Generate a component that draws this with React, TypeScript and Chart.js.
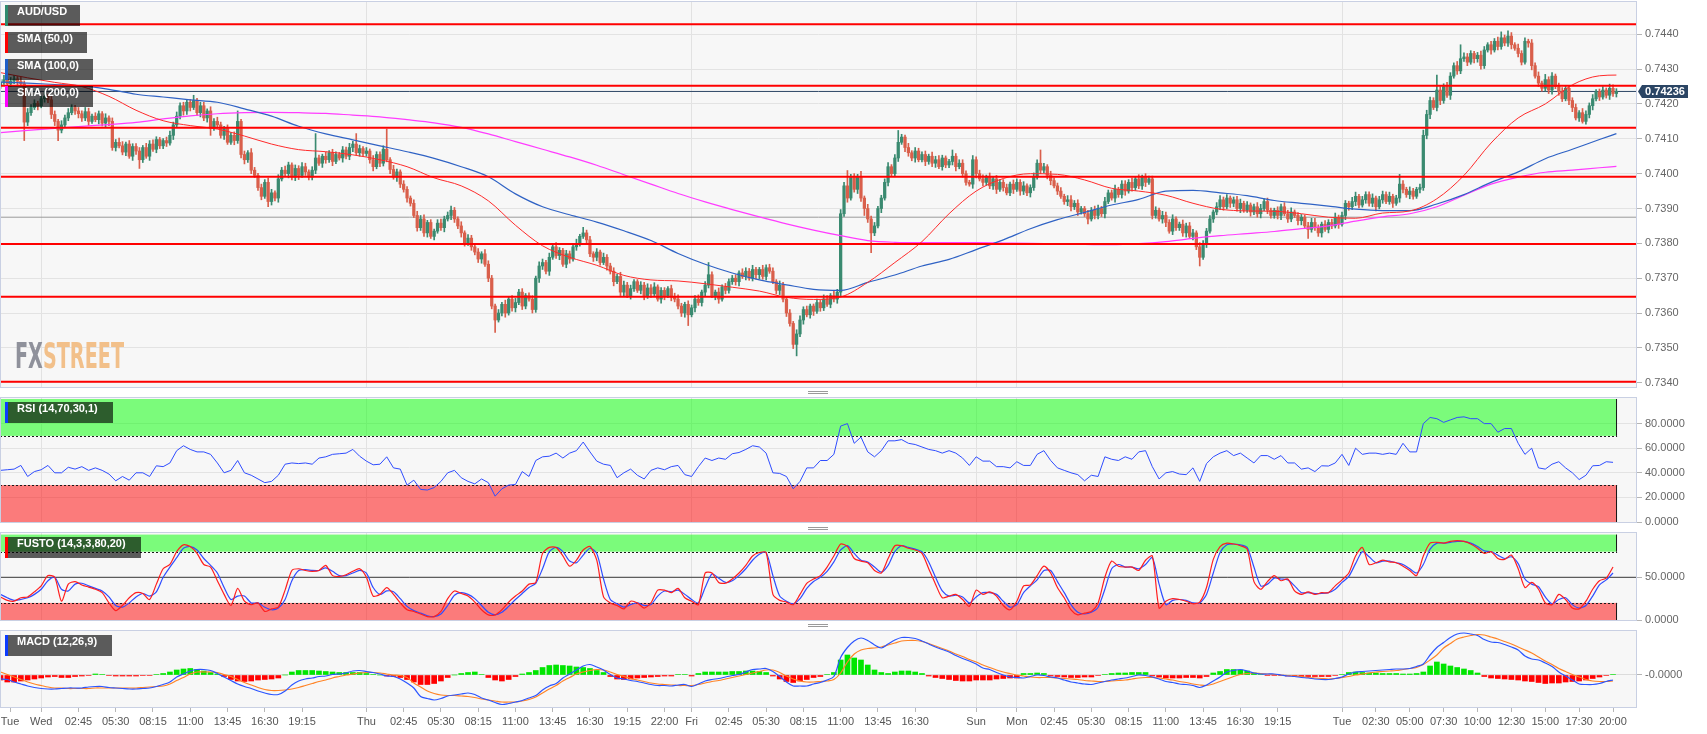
import React, { useEffect, useRef } from "react";
import { Chart, registerables } from "chart.js";

Chart.register(...registerables);
Chart.defaults.font.family = "'Liberation Sans', Arial, Helvetica, sans-serif";

// ---------------- time axis: trading hours since Wed 00:00 (weekend gap removed) ----------------
const X_MIN = -3.04;
const X_MAX = 117.77;
const TICK_T = [-2.3, 0, 2.75, 5.5, 8.25, 11, 13.75, 16.5, 19.25, 24, 26.75, 29.5, 32.25, 35, 37.75, 40.5, 43.25, 46, 48, 50.75, 53.5, 56.25, 59, 61.75, 64.5, 69, 72, 74.75, 77.5, 80.25, 83, 85.75, 88.5, 91.25, 96, 98.5, 101, 103.5, 106, 108.5, 111, 113.5, 116];
const TICK_LABELS = ["Tue", "Wed", "02:45", "05:30", "08:15", "11:00", "13:45", "16:30", "19:15", "Thu", "02:45", "05:30", "08:15", "11:00", "13:45", "16:30", "19:15", "22:00", "Fri", "02:45", "05:30", "08:15", "11:00", "13:45", "16:30", "Sun", "Mon", "02:45", "05:30", "08:15", "11:00", "13:45", "16:30", "19:15", "Tue", "02:30", "05:00", "07:30", "10:00", "12:30", "15:00", "17:30", "20:00"];
const DAY_T = [0, 24, 48, 69, 72, 96];

// ---------------- 15-minute candles, values in 1e-5 above 0.73000 ----------------
const PRICE_BASE = 0.73;
const PRICE_UNIT = 100000;
const BAR_T0 = -3;
const BAR_STEP = 0.25;
const FIRST_OPEN = 1255;
const CLOSE = [
  1262, 1270, 1258, 1266,
  1272, 1265, 1258, 1148,
  1175, 1190, 1202, 1195,
  1215, 1222, 1212, 1170,
  1150, 1125, 1140, 1160,
  1175, 1190, 1180, 1172,
  1160, 1178, 1150, 1165,
  1155, 1172, 1145, 1160,
  1150, 1075, 1090, 1080,
  1062, 1085, 1050, 1078,
  1065, 1040, 1075, 1050,
  1085, 1070, 1098, 1080,
  1095, 1088, 1110, 1140,
  1165, 1195, 1180, 1205,
  1190, 1210, 1175, 1195,
  1160, 1180, 1130, 1150,
  1140, 1110, 1130, 1090,
  1110, 1095, 1150, 1055,
  1040, 1060, 1010, 995,
  960, 935, 975, 920,
  945, 930, 985, 1010,
  1000, 1025, 990, 1015,
  995, 1020, 1005, 990,
  1010, 1045, 1030, 1050,
  1040, 1060, 1035, 1055,
  1045, 1068, 1050, 1075,
  1085, 1060, 1072, 1058,
  1065, 1040, 1020, 1055,
  1030, 1070, 1040, 1012,
  990, 1005, 970, 955,
  930, 915, 880, 845,
  870, 830, 860, 820,
  835, 858, 845, 870,
  880, 895, 870, 850,
  830, 800, 815, 790,
  775, 755, 770, 740,
  700, 620, 580, 600,
  625, 600, 640, 615,
  630, 660, 620, 650,
  640, 610, 700, 735,
  745, 720, 760, 790,
  765, 780, 740, 770,
  755, 790, 800, 820,
  830, 810, 770, 760,
  775, 745, 760, 735,
  720, 690, 705, 660,
  680, 650, 670, 690,
  665, 680, 650, 672,
  655, 675, 640, 665,
  650, 670, 645, 640,
  620, 600, 625, 595,
  615, 640, 630, 660,
  680, 710, 650, 660,
  640, 675, 665, 690,
  700, 690, 715, 705,
  720, 700, 725, 710,
  725, 705, 730, 720,
  690, 665, 680, 640,
  600, 570, 510, 540,
  580, 610, 595, 620,
  605, 630, 615, 640,
  625, 650, 640, 660,
  885, 965, 930, 990,
  955, 990, 930, 900,
  870, 830, 850, 900,
  930, 975, 1020, 1000,
  1045, 1090, 1105, 1075,
  1060, 1045, 1065, 1040,
  1055, 1035, 1050, 1030,
  1040, 1020, 1045, 1025,
  1035, 1050, 1020, 1030,
  1000, 975, 970, 1040,
  1000, 985, 975, 990,
  965, 985, 955, 975,
  960, 945, 970, 955,
  975, 950, 965, 945,
  960, 990, 1030, 1010,
  1020, 995, 980, 965,
  950, 935, 920, 925,
  905, 915, 890, 900,
  885, 870, 895, 880,
  900, 885, 920, 945,
  930, 955, 940, 970,
  950, 975, 960, 985,
  965, 990, 975, 985,
  880, 895, 870, 880,
  860, 835, 870, 845,
  855, 830, 850, 820,
  830, 790, 760, 800,
  835, 870, 890, 905,
  925, 905, 930, 915,
  925, 900, 915, 895,
  910, 890, 905, 885,
  900, 920, 895, 880,
  895, 880, 905, 885,
  870, 890, 880, 865,
  875, 850, 840, 860,
  845, 830, 855, 840,
  860, 850, 875, 855,
  880, 915, 905, 920,
  935, 910, 925, 940,
  915, 930, 905, 925,
  940, 920, 935, 915,
  930, 970, 955, 940,
  950, 935, 955, 960,
  1110, 1170, 1210, 1190,
  1240, 1210, 1250, 1225,
  1280, 1310, 1295, 1330,
  1335, 1320, 1345, 1330,
  1340, 1310, 1355, 1370,
  1355, 1380, 1365, 1390,
  1375, 1395, 1370, 1360,
  1345, 1320, 1380, 1375,
  1310, 1280, 1260, 1245,
  1270, 1240, 1280, 1250,
  1235, 1215, 1245, 1210,
  1190, 1160, 1175, 1150,
  1170, 1195, 1215, 1235,
  1220, 1240, 1225, 1245,
  1230, 1236,
];
const HI_W = [
  8, 12, 6, 10, 10, 7, 12, 8, 12, 8, 10, 6, 8, 14, 6, 10,
  10, 6, 12, 8, 12, 8, 6, 10, 8, 12, 10, 6, 10, 8, 6, 12,
  6, 10, 8, 12, 12, 6, 10, 8, 8, 10, 6, 12, 10, 12, 8, 6,
  6, 10, 12, 8, 12, 8, 10, 6, 8, 15, 6, 10, 10, 6, 12, 8,
  12, 8, 6, 10, 8, 10, 30, 6, 10, 6, 12, 8, 6, 10, 8, 12,
  10, 6, 12, 8, 12, 8, 6, 10, 8, 12, 10, 6, 10, 70, 8, 6,
  12, 6, 10, 8, 6, 10, 8, 12, 8, 30, 10, 6, 10, 6, 12, 8,
  8, 10, 58, 6, 12, 8, 6, 10, 8, 6, 10, 12, 10, 12, 6, 8,
  6, 10, 12, 8, 10, 12, 8, 6, 12, 6, 10, 8, 8, 10, 6, 12,
  10, 8, 6, 10, 6, 12, 8, 10, 12, 8, 10, 6, 8, 10, 6, 12,
  10, 6, 12, 8, 12, 8, 6, 10, 8, 10, 12, 6, 16, 8, 10, 6,
  10, 6, 12, 8, 8, 10, 6, 12, 12, 8, 10, 6, 6, 10, 8, 12,
  10, 12, 6, 8, 8, 6, 10, 12, 12, 8, 6, 10, 8, 10, 12, 6,
  10, 35, 8, 6, 12, 6, 10, 8, 8, 10, 6, 12, 10, 8, 12, 6,
  6, 12, 8, 10, 10, 6, 12, 8, 8, 10, 6, 12, 12, 8, 10, 6,
  6, 10, 8, 12, 10, 6, 12, 8, 12, 10, 44, 8, 10, 8, 17, 6,
  12, 8, 10, 6, 8, 10, 12, 6, 10, 34, 8, 6, 12, 6, 10, 8,
  8, 10, 6, 12, 10, 12, 8, 6, 6, 18, 8, 10, 10, 8, 6, 12,
  8, 10, 12, 6, 12, 6, 10, 8, 8, 10, 6, 12, 10, 8, 12, 6,
  8, 12, 10, 38, 10, 6, 12, 8, 8, 10, 6, 12, 12, 8, 10, 6,
  6, 10, 8, 12, 10, 6, 12, 8, 8, 12, 6, 10, 10, 8, 12, 6,
  12, 6, 10, 8, 8, 10, 6, 12, 10, 8, 12, 6, 6, 12, 8, 10,
  10, 6, 12, 8, 8, 10, 6, 12, 12, 8, 10, 6, 8, 10, 12, 6,
  10, 6, 8, 12, 12, 8, 10, 6, 6, 10, 8, 12, 10, 12, 6, 8,
  8, 6, 10, 12, 12, 8, 6, 10, 8, 10, 12, 6, 10, 8, 6, 12,
  12, 6, 10, 8, 8, 12, 6, 10, 10, 8, 12, 6, 8, 28, 10, 6,
  12, 8, 6, 10, 15, 12, 10, 8, 43, 10, 8, 12, 10, 8, 12, 40,
  12, 10, 8, 6, 8, 12, 10, 6, 10, 8, 12, 17, 8, 15, 10, 6,
  12, 8, 10, 6, 10, 8, 12, 6, 15, 8, 10, 6, 10, 12, 8, 6,
  8, 10, 6, 12, 10, 8, 12, 6, 8, 10, 6, 12, 10, 8,
];
const LO_W = [
  10, 6, 12, 8, 8, 12, 6, 53, 10, 8, 6, 12, 6, 10, 8, 12,
  12, 30, 8, 6, 8, 6, 10, 12, 10, 8, 12, 6, 6, 12, 8, 10,
  12, 8, 10, 6, 8, 10, 6, 12, 10, 25, 8, 6, 12, 6, 10, 8,
  8, 10, 6, 12, 6, 8, 12, 10, 10, 6, 8, 12, 8, 12, 20, 6,
  10, 8, 12, 6, 6, 12, 8, 10, 12, 8, 10, 6, 8, 10, 6, 15,
  10, 8, 12, 6, 6, 12, 8, 10, 12, 6, 10, 8, 8, 10, 6, 12,
  10, 8, 12, 6, 6, 12, 8, 10, 12, 6, 10, 8, 8, 10, 12, 6,
  10, 8, 6, 12, 6, 12, 10, 8, 12, 8, 6, 10, 8, 10, 12, 6,
  10, 6, 8, 12, 6, 12, 10, 8, 12, 8, 6, 10, 8, 10, 12, 6,
  10, 8, 36, 6, 8, 12, 6, 10, 12, 6, 10, 8, 6, 10, 8, 12,
  10, 8, 12, 6, 8, 12, 6, 10, 12, 6, 10, 8, 6, 10, 8, 12,
  10, 8, 6, 12, 8, 12, 6, 10, 12, 6, 10, 8, 6, 10, 12, 8,
  10, 8, 6, 12, 12, 6, 10, 8, 8, 10, 12, 31, 6, 12, 8, 10,
  10, 8, 6, 12, 12, 6, 10, 8, 8, 10, 12, 6, 10, 6, 8, 12,
  12, 8, 10, 6, 6, 10, 12, 8, 10, 8, 12, 33, 8, 12, 6, 10,
  12, 6, 10, 8, 6, 10, 8, 12, 10, 8, 12, 6, 8, 12, 10, 20,
  10, 57, 8, 6, 12, 6, 10, 8, 8, 10, 6, 12, 10, 8, 12, 6,
  6, 12, 8, 10, 12, 6, 10, 8, 8, 10, 12, 6, 10, 8, 6, 12,
  12, 6, 10, 8, 8, 10, 12, 6, 10, 6, 8, 12, 6, 12, 10, 8,
  12, 8, 6, 10, 8, 10, 12, 6, 10, 6, 8, 12, 12, 8, 10, 6,
  8, 14, 6, 10, 10, 8, 12, 6, 6, 12, 8, 10, 12, 6, 10, 8,
  8, 10, 12, 6, 10, 8, 6, 12, 12, 6, 10, 8, 8, 10, 12, 6,
  10, 8, 25, 6, 12, 6, 10, 8, 8, 10, 6, 12, 10, 8, 12, 6,
  6, 12, 8, 10, 12, 6, 10, 8, 8, 10, 12, 6, 10, 8, 6, 12,
  12, 6, 26, 8, 8, 10, 12, 6, 10, 8, 6, 12, 6, 12, 10, 8,
  12, 8, 6, 10, 8, 10, 12, 6, 10, 6, 8, 12, 6, 12, 10, 8,
  12, 8, 6, 10, 8, 10, 12, 6, 10, 12, 8, 6, 12, 6, 10, 8,
  8, 10, 6, 12, 10, 10, 8, 6, 12, 6, 10, 8, 8, 10, 12, 6,
  10, 8, 6, 12, 12, 6, 10, 8, 8, 10, 12, 6, 10, 8, 6, 12,
  12, 6, 10, 5, 8, 10, 12, 6, 10, 6, 8, 12, 8, 10,
];

const RED_LEVELS = [0.74429, 0.74252, 0.74132, 0.73991, 0.73798, 0.73647, 0.73403];
const GRAY_LEVEL = 0.73875;
const PRICE_TICKS = [0.734, 0.735, 0.736, 0.737, 0.738, 0.739, 0.74, 0.741, 0.742, 0.743, 0.744];

// ---------------- moving averages (every 2 h), units 1e-5 above 0.73000 ----------------
const SMA_LAST_T = 116.25;
const SMA50 = [1290, 1275, 1262, 1250, 1222, 1182, 1152, 1138, 1128, 1108, 1085, 1069, 1063, 1054, 1040, 1020, 988, 965, 922, 852, 793, 760, 737, 708, 695, 692, 684, 674, 663, 645, 639, 646, 688, 745, 805, 885, 950, 986, 1000, 998, 982, 958, 950, 938, 915, 898, 893, 892, 885, 875, 872, 887, 893, 928, 995, 1088, 1160, 1200, 1255, 1281, 1283];
const SMA100 = [1263, 1260, 1256, 1252, 1242, 1228, 1220, 1212, 1205, 1186, 1165, 1136, 1114, 1097, 1080, 1063, 1044, 1020, 991, 942, 905, 882, 861, 836, 808, 771, 740, 715, 695, 681, 668, 665, 688, 709, 735, 754, 782, 810, 842, 868, 889, 910, 926, 950, 952, 945, 937, 923, 915, 907, 898, 894, 894, 913, 940, 975, 1005, 1043, 1070, 1098, 1115];
const SMA200 = [1118, 1124, 1130, 1136, 1141, 1147, 1157, 1166, 1172, 1175, 1176, 1175, 1173, 1168, 1163, 1155, 1146, 1133, 1114, 1092, 1070, 1048, 1024, 997, 970, 943, 919, 897, 876, 856, 838, 822, 808, 803, 802, 802, 802, 801, 800, 798, 797, 796, 799, 805, 814, 822, 828, 834, 842, 850, 864, 876, 885, 905, 938, 970, 990, 1004, 1010, 1017, 1021];

// ---------------- indicators (every 30 min from t = -3) ----------------
const IND_T0 = -3;
const IND_STEP = 0.5;
const ZONE_END = 116.3;
const RSI = [
  42, 42.5, 43, 46, 37, 41, 42.5, 46, 40, 40, 44.5, 43, 45, 42, 44, 42, 39, 33.5,
  37, 34, 40, 40, 37, 45.7, 45, 48, 58, 62, 59, 57, 57, 55, 48, 40, 42, 50,
  40, 38, 35, 32, 33, 38, 47, 48, 47.5, 48, 47, 52, 53, 55, 55.5, 56, 59, 53.5,
  49.5, 46.5, 47, 53, 44, 43, 30, 34, 26.5, 26, 28, 33, 40, 42, 36, 33, 31, 35,
  32, 21, 27, 30, 30.5, 41, 37, 50, 53, 53.5, 56, 52, 56, 58, 65, 57, 49.5, 47,
  46, 36, 40, 43, 38, 35, 42, 44, 42.5, 45, 46, 38.5, 37, 45, 52, 50, 52, 51,
  55.5, 56.5, 59, 62, 61, 56, 40, 39.5, 37, 27, 33, 44, 44, 50, 50, 55, 78, 80,
  64, 69, 57, 53, 58, 66, 66, 67, 64, 63, 61, 59, 58, 56, 58, 56, 52, 46,
  53, 49.5, 49.5, 45, 45, 44, 49, 46, 46, 55, 58, 50, 44, 42, 40, 38.5, 33.5, 38,
  37, 53, 51, 50, 53, 51, 57, 58, 45, 35, 40, 41, 39, 38.5, 44, 33, 47.5, 53,
  56, 58, 54, 56, 52, 48, 54, 54, 51, 54, 48, 48, 43, 44, 41, 45.7, 45.5, 48,
  55, 46, 60, 55, 56, 56, 55, 56, 55, 64, 57, 57, 80, 85, 84, 81, 83, 85,
  85.5, 84, 84, 80, 80, 73, 76, 76, 64, 55, 60, 44, 43, 47, 49, 44, 40, 34.5,
  38, 45.7, 46, 49, 48.5,
];
const RSI_TICKS = [0, 20, 40, 60, 80];
const RSI_UPPER = [70, 100];
const RSI_LOWER = [0, 30];

const FUSTO_K = [
  27, 23, 22, 26, 27, 33, 40, 52, 50, 22, 42, 45, 41, 38.5, 36, 32, 20, 11,
  17, 26, 32, 31, 24, 42, 60, 65, 80, 88, 86, 78, 65, 62, 46, 30, 17, 37,
  22, 18, 20, 10, 13, 15, 35, 58, 60, 58, 57, 58, 64, 52, 51, 53, 57, 60,
  50, 28, 30, 38, 30, 20, 12, 10, 7, 4, 4, 10, 25, 34, 31, 28, 21, 12,
  6, 6, 12, 21, 28, 34, 42, 44, 78, 85, 85, 75, 63, 70, 82, 86, 70, 27,
  20, 17, 13, 22, 20, 14, 20, 35, 35, 32, 37, 26, 22, 18, 55, 55, 44, 43,
  48, 55, 64, 75, 79, 79, 30, 23, 21, 18, 30, 43, 48, 52, 62, 75, 89, 86,
  72, 69, 67, 58, 55, 72, 87, 87, 84, 82, 78, 60, 42, 26, 28, 30, 24, 16,
  35, 30, 33, 28, 17, 12, 22, 40, 41, 52, 63, 55, 38, 26, 12, 6, 8, 10,
  20, 50, 69, 63, 62, 62, 58, 70, 75, 14, 22, 25, 24, 22, 19, 21, 38, 71,
  86, 90, 89, 87, 83, 45, 36, 45, 52, 46, 48, 34, 30, 33, 30, 32, 32, 40,
  47, 55, 75, 85, 65, 67, 70, 68, 67, 63, 58, 52, 75, 90, 91, 90, 92, 93,
  92, 89, 84, 78, 80, 72, 71, 76, 60, 38, 44, 36, 20, 18, 30, 24, 14, 13,
  22, 36, 46, 49, 62,
];
const FUSTO_D = [
  30, 26, 23, 24, 26, 30, 36, 46, 50, 36, 34, 42, 43, 40, 37, 34, 27, 17,
  15, 20, 27, 31, 28, 33, 50, 62, 73, 84, 86, 82, 72, 64, 55, 38, 24, 28,
  28, 20, 20, 15, 12, 14, 24, 46, 58, 59, 58, 58, 61, 57, 52, 52, 55, 58,
  55, 38, 30, 34, 33, 25, 16, 11, 8, 5, 4, 7, 17, 29, 32, 30, 25, 17,
  9, 6, 9, 16, 24, 31, 38, 43, 60, 80, 85, 80, 69, 67, 76, 84, 78, 48,
  24, 19, 15, 18, 20, 17, 18, 28, 34, 33, 35, 30, 24, 20, 38, 54, 49, 44,
  46, 52, 60, 70, 77, 79, 52, 28, 22, 19, 25, 37, 45, 50, 57, 68, 82, 87,
  78, 70, 68, 62, 56, 64, 80, 87, 85, 83, 80, 68, 50, 34, 28, 29, 27, 20,
  27, 32, 32, 30, 22, 15, 18, 32, 40, 47, 58, 58, 45, 32, 18, 9, 7, 9,
  15, 36, 60, 65, 62, 62, 60, 65, 73, 42, 18, 23, 24, 23, 20, 20, 30, 55,
  79, 88, 89, 88, 85, 62, 40, 42, 49, 48, 47, 40, 32, 32, 31, 31, 32, 36,
  44, 51, 66, 80, 74, 67, 69, 69, 67, 65, 60, 55, 65, 83, 90, 90, 91, 92,
  92, 90, 86, 81, 80, 76, 72, 74, 66, 48, 42, 39, 27, 19, 24, 26, 18, 14,
  17, 28, 41, 47, 55,
];
const FUSTO_TICKS = [0, 50];
const FUSTO_UPPER = [80, 100];
const FUSTO_LOWER = [0, 20];
const FUSTO_MID = 50;

// MACD values in 1e-4 (pips)
const MACD = [
  -0.8, -0.9, -1.4, -1.8, -2.2, -2.5, -2.7, -2.8, -2.8, -2.7, -2.6, -2.6, -2.6, -2.4, -2.3, -2.3, -2.5, -2.6,
  -2.7, -2.8, -2.8, -2.7, -2.6, -2.3, -1.9, -1.4, -0.4, 0.2, 0.8, 1.1, 1.1, 0.9, 0.3, -0.4, -1.1, -1.8,
  -2.3, -2.7, -3.2, -3.6, -3.9, -3.9, -3.2, -2.0, -1.2, -0.8, -0.6, -0.3, -0.2, 0.1, 0.2, 0.4, 0.8, 0.9,
  0.7, 0.5, 0.2, -0.2, -0.3, -0.8, -1.6, -2.6, -4.3, -4.7, -5.0, -4.7, -4.2, -4.0, -3.8, -3.6, -3.9, -4.6,
  -5.0, -5.5, -5.9, -5.7, -5.4, -5.1, -4.6, -4.1, -3.0, -2.2, -1.7, -0.6, 0.2, 1.0, 1.8, 2.1, 1.6, 1.0,
  0.1, -0.6, -0.8, -1.1, -1.3, -1.6, -1.9, -2.1, -2.1, -2.2, -2.0, -1.9, -2.3, -1.8, -1.2, -0.9, -0.7, -0.4,
  -0.1, 0.1, 0.6, 1.1, 1.2, 1.3, 0.7, -0.3, -1.4, -2.2, -2.2, -2.2, -1.8, -1.5, -1.0, -0.3, 3.5, 5.5,
  6.8, 7.4, 6.9, 6.0, 5.4, 6.2, 7.0, 7.5, 7.5, 7.3, 6.8, 6.2, 5.6, 5.1, 4.6, 3.9, 3.3, 2.8,
  2.2, 1.4, 1.1, 0.5, 0.0, -0.4, -0.5, -0.6, -0.3, 0.0, -0.1, -0.4, -0.6, -1.0, -1.4, -1.6, -1.8, -1.9,
  -1.6, -1.3, -1.0, -0.8, -0.6, -0.3, 0.0, -0.1, -0.4, -0.8, -1.3, -1.5, -1.8, -1.9, -2.1, -2.5, -2.0, -1.2,
  -0.4, 0.6, 0.9, 1.1, 0.8, 0.4, 0.2, 0.2, 0.2, 0.0, -0.2, -0.3, -0.5, -0.6, -0.8, -0.9, -0.9, -0.7,
  -0.4, 0.2, 0.6, 0.7, 0.8, 0.9, 1.0, 1.1, 1.2, 1.2, 1.3, 1.7, 2.2, 4.0, 5.5, 6.5, 7.5, 8.2,
  8.4, 8.2, 7.9, 7.1, 6.6, 6.5, 6.1, 5.6, 5.0, 3.8, 3.2, 3.0, 2.4, 1.7, 0.6, -0.2, -1.0, -1.8,
  -1.9, -1.9, -1.7, -1.3, -1.0,
];
const SIGNAL = [
  0.6, 0.1, -0.4, -0.9, -1.4, -1.8, -2.1, -2.4, -2.6, -2.6, -2.7, -2.7, -2.7, -2.7, -2.6, -2.6, -2.6, -2.6,
  -2.6, -2.6, -2.6, -2.5, -2.4, -2.3, -2.2, -1.8, -1.1, -0.5, 0.2, 0.6, 0.6, 0.6, 0.5, 0.1, -0.3, -0.9,
  -1.5, -2.0, -2.5, -2.9, -3.1, -3.1, -3.0, -2.8, -2.5, -2.1, -1.7, -1.3, -1.0, -0.6, -0.3, 0.0, 0.2, 0.4,
  0.5, 0.5, 0.4, 0.2, 0.0, -0.1, -0.5, -1.6, -2.4, -3.2, -3.7, -4.0, -4.1, -4.1, -4.2, -4.3, -4.5, -4.8,
  -5.0, -5.2, -5.4, -5.4, -5.4, -5.2, -4.9, -4.4, -3.6, -2.8, -2.1, -1.2, -0.5, 0.2, 0.6, 0.9, 1.1, 1.0,
  0.6, 0.1, -0.3, -0.7, -1.0, -1.3, -1.6, -1.8, -1.9, -2.0, -2.1, -2.1, -2.1, -1.9, -1.6, -1.3, -1.1, -0.8,
  -0.5, -0.2, 0.1, 0.4, 0.7, 1.0, 1.0, 0.5, -0.2, -0.8, -1.2, -1.4, -1.4, -1.3, -1.2, -0.9, 0.4, 2.6,
  4.2, 5.0, 5.3, 5.4, 5.6, 6.0, 6.4, 6.8, 6.9, 6.9, 6.7, 6.3, 5.8, 5.3, 4.8, 4.2, 3.7, 3.1,
  2.6, 2.0, 1.5, 1.0, 0.6, 0.3, 0.0, -0.2, -0.4, -0.5, -0.5, -0.5, -0.6, -0.7, -0.8, -0.9, -1.1, -1.2,
  -1.3, -1.3, -1.2, -1.1, -1.0, -0.8, -0.6, -0.5, -0.5, -0.6, -0.8, -1.0, -1.3, -1.5, -1.8, -2.0, -2.1, -1.8,
  -1.3, -0.8, -0.3, 0.1, 0.3, 0.4, 0.3, 0.2, 0.1, 0.0, -0.1, -0.2, -0.3, -0.5, -0.6, -0.7, -0.8, -0.7,
  -0.5, -0.3, 0.0, 0.2, 0.4, 0.6, 0.7, 0.8, 0.9, 1.1, 1.3, 1.5, 2.1, 3.0, 4.0, 5.4, 6.3, 7.2,
  7.6, 7.9, 8.1, 8.0, 7.6, 7.2, 6.7, 6.2, 5.6, 5.0, 4.4, 3.6, 2.8, 2.1, 1.3, 0.7, 0.1, -0.4,
  -0.9, -1.2, -1.3, -1.3, -1.2,
];
const HIST = [
  -1.0, -1.4, -1.4, -1.2, -1.0, -0.8, -0.6, -0.4, -0.3, -0.5, -0.5, -0.3, -0.2, -0.1, 0.2,
  0.1, -0.1, -0.2, -0.2, -0.2, -0.2, -0.1, -0.1, 0.1, 0.3,
  0.6, 1.0, 1.2, 1.3, 1.1, 0.8, 0.5, 0.2,
  -0.3, -0.9, -1.2, -1.3, -1.2, -1.0, -0.9, -0.8, -0.6,
  0.0, 0.6, 0.9, 0.9, 0.9, 0.8, 0.7, 0.6, 0.5, 0.5, 0.5,
  0.5, 0.3, 0.1, 0.0, -0.2, -0.3, -0.5, -0.9, -1.4, -1.9,
  -1.9, -1.7, -1.2, -0.5, 0.0, 0.3, 0.5, 0.6, 0.1, -0.5,
  -1.0, -1.2, -0.9, -0.3, 0.2, 0.5,
  0.9, 1.5, 1.9, 2.0, 1.9, 1.8, 1.6, 1.5, 1.3, 0.9,
  0.5, -0.3, -0.8, -0.9, -0.8, -0.6, -0.5, -0.4,
  -0.3, -0.2, -0.2, 0.1, 0.1, -0.2, 0.3, 0.6,
  0.6, 0.6, 0.6, 0.7, 0.7, 0.8, 0.8, 0.7, 0.5, -0.2,
  -0.8, -1.3, -1.5, -1.2, -0.9, -0.5, -0.3, 0.1, 0.5,
  3.0, 4.0, 3.4, 3.0, 2.0, 1.0, 0.5, 0.3, 0.6, 0.8, 0.8,
  0.6, 0.3, -0.2, -0.5, -0.7, -0.9, -1.1, -1.2, -1.2, -1.0, -1.0, -1.0, -0.8, -0.7, -0.6, -0.6,
  0.3, 0.3, 0.4, 0.3, -0.2, -0.3, -0.4, -0.5,
  -0.5, -0.4, -0.4, -0.1, 0.1, 0.3, 0.4, 0.4, 0.5, 0.5, 0.5,
  -0.2, -0.4, -0.6, -0.6, -0.6, -0.5, -0.5, -0.6, -0.3,
  0.4, 0.7, 1.1, 1.1, 1.0, 0.8, 0.4, 0.1,
  -0.1, -0.1, -0.1, -0.2, -0.2, -0.3, -0.3, -0.3, -0.3, -0.3, -0.1, 0.1,
  0.5, 0.6, 0.5, 0.4, 0.4, 0.3, 0.3, 0.3, 0.2, 0.2, 0.3,
  0.6, 1.8, 2.6, 2.2, 1.8, 1.5, 1.2, 0.9, 0.4,
  -0.3, -0.6, -0.7, -0.8, -0.9, -1.0, -1.2, -1.3,
  -1.5, -1.7, -1.6, -1.6, -1.4, -1.3, -1.2, -1.0, -0.7, -0.4, -0.1, 0.1,
];
const MACD_TICKS = [0];
const MACD_TICK_LABELS = ["-0.0000"];

// ---------------- helpers ----------------
const W = 1707;
const AXIS_W = 70;
const UP = "#3a8a70";
const DOWN = "#d95f4b";
const px = (v: number) => PRICE_BASE + v / PRICE_UNIT;
const barT = (i: number) => BAR_T0 + i * BAR_STEP;
const indT = (i: number) => IND_T0 + i * IND_STEP;
const SMA_T = [...Array.from({ length: SMA50.length - 1 }, (_, i) => -3 + 2 * i), SMA_LAST_T];
const openOf = (i: number) => (i === 0 ? FIRST_OPEN : CLOSE[i - 1]);
const LAST_PRICE = px(CLOSE[CLOSE.length - 1]);

function xScale(showLabels: boolean) {
  return {
    type: "linear",
    min: X_MIN,
    max: X_MAX,
    bounds: "data",
    offset: false,
    afterBuildTicks: (s: any) => {
      s.ticks = TICK_T.map((v) => ({ value: v }));
    },
    afterFit: (s: any) => {
      s.height = showLabels ? 26 : 0;
      s.paddingLeft = 0;
      s.paddingRight = 0;
    },
    border: { display: false },
    grid: {
      color: (c: any) => (c.tick && DAY_T.includes(c.tick.value) ? "#e2e2e2" : "rgba(0,0,0,0)"),
      drawTicks: showLabels,
      tickLength: 4,
      tickColor: "#b8b8b8",
      offset: false,
    },
    ticks: {
      display: showLabels,
      autoSkip: false,
      maxRotation: 0,
      minRotation: 0,
      padding: 3,
      color: "#555",
      font: { size: 11 },
      callback: (_v: any, i: number) => TICK_LABELS[i],
    },
  };
}

function yScale(min: number, max: number, ticks: number[], fmt: (v: number, i: number) => string, gridColor = "#e3e3e3") {
  return {
    type: "linear",
    position: "right",
    min,
    max,
    bounds: "data",
    afterBuildTicks: (s: any) => {
      s.ticks = ticks.map((v) => ({ value: v }));
    },
    afterFit: (s: any) => {
      s.width = AXIS_W;
      s.paddingTop = 0;
      s.paddingBottom = 0;
    },
    border: { display: false },
    grid: { color: gridColor, tickLength: 5, tickColor: "#b5b5b5", drawTicks: true },
    ticks: { padding: 3, color: "#666", font: { size: 11 }, autoSkip: false, callback: (v: any, i: number) => fmt(Number(v), i) },
  };
}

function baseOptions(padTop: number, padBottom: number, showX: boolean, y: any) {
  return {
    responsive: false,
    maintainAspectRatio: false,
    animation: false,
    devicePixelRatio: 1,
    events: [],
    layout: { padding: { left: 0, right: 0, top: padTop, bottom: padBottom } },
    plugins: { legend: { display: false }, tooltip: { enabled: false } },
    scales: { x: xScale(showX), y },
  };
}

const panelPlugin = {
  id: "panel",
  beforeDraw(chart: any) {
    const { ctx, chartArea: a } = chart;
    ctx.save();
    ctx.fillStyle = "#f7f7f7";
    ctx.fillRect(a.left, a.top, a.right - a.left, a.bottom - a.top);
    ctx.restore();
  },
  afterDraw(chart: any) {
    const { ctx, chartArea: a } = chart;
    ctx.save();
    ctx.strokeStyle = "#c9d0e3";
    ctx.lineWidth = 1;
    ctx.strokeRect(a.left + 0.5, a.top + 0.5, a.right - a.left - 1, a.bottom - a.top - 1);
    ctx.restore();
  },
};

function zonePlugin(upper: number[], lower: number[]) {
  return {
    id: "zones",
    beforeDatasetsDraw(chart: any) {
      const { ctx, chartArea, scales } = chart;
      const x0 = chartArea.left;
      const x1 = scales.x.getPixelForValue(ZONE_END);
      const draw = (range: number[], fill: string, dashAt: number) => {
        const yTop = scales.y.getPixelForValue(range[1]);
        const yBot = scales.y.getPixelForValue(range[0]);
        ctx.fillStyle = fill;
        ctx.fillRect(x0, yTop, x1 - x0, yBot - yTop);
        ctx.strokeStyle = "#1a1a1a";
        ctx.lineWidth = 1;
        ctx.setLineDash([]);
        ctx.beginPath();
        ctx.moveTo(x0 + 0.5, yTop);
        ctx.lineTo(x0 + 0.5, yBot);
        ctx.moveTo(Math.round(x1) - 0.5, yTop);
        ctx.lineTo(Math.round(x1) - 0.5, yBot);
        ctx.stroke();
        const yd = Math.round(scales.y.getPixelForValue(dashAt)) + 0.5;
        ctx.setLineDash([2, 2]);
        ctx.beginPath();
        ctx.moveTo(x0, yd);
        ctx.lineTo(x1, yd);
        ctx.stroke();
        ctx.setLineDash([]);
      };
      ctx.save();
      draw(upper, "rgba(0,255,0,0.5)", upper[0]);
      draw(lower, "rgba(255,0,0,0.5)", lower[1]);
      ctx.restore();
    },
  };
}

const watermarkPlugin = {
  id: "watermark",
  beforeDatasetsDraw(chart: any) {
    const { ctx } = chart;
    ctx.save();
    ctx.font = "bold 36px 'DejaVu Sans Condensed', 'DejaVu Sans', sans-serif";
    ctx.textBaseline = "alphabetic";
    const w1 = ctx.measureText("FX").width;
    const w2 = ctx.measureText("STREET").width;
    const k = 109 / (w1 + w2);
    ctx.translate(15, 368);
    ctx.scale(k, 1);
    ctx.fillStyle = "#8f919b";
    ctx.fillText("FX", 0, 0);
    ctx.fillStyle = "#f2c08a";
    ctx.fillText("STREET", w1, 0);
    ctx.restore();
  },
};

const priceTagPlugin = {
  id: "priceTag",
  afterDraw(chart: any) {
    const { ctx, chartArea, scales } = chart;
    const yv = Math.round(scales.y.getPixelForValue(LAST_PRICE)) + 0.5;
    const xl = chartArea.right + 1;
    ctx.save();
    ctx.fillStyle = "#2b4564";
    ctx.beginPath();
    ctx.moveTo(xl, yv);
    ctx.lineTo(xl + 4, yv - 6.5);
    ctx.lineTo(1688, yv - 6.5);
    ctx.lineTo(1688, yv + 6.5);
    ctx.lineTo(xl + 4, yv + 6.5);
    ctx.closePath();
    ctx.fill();
    ctx.fillStyle = "#ffffff";
    ctx.font = "bold 11px 'Liberation Sans', Arial, sans-serif";
    ctx.textAlign = "center";
    ctx.textBaseline = "middle";
    ctx.fillText(LAST_PRICE.toFixed(5), 1665, yv + 0.5);
    ctx.restore();
  },
};

const hline = (v: number, color: string, width: number, order: number) => ({
  type: "line",
  data: [
    { x: X_MIN, y: v },
    { x: X_MAX, y: v },
  ],
  borderColor: color,
  borderWidth: width,
  pointRadius: 0,
  order,
});

const series = (vals: number[], tOf: (i: number) => number, conv: (v: number) => number = (v) => v) =>
  vals.map((v, i) => ({ x: tOf(i), y: conv(v) }));

function mainConfig() {
  const bodies = CLOSE.map((c, i) => ({ x: barT(i), y: [px(openOf(i)), px(c)] }));
  const wicks = CLOSE.map((c, i) => {
    const o = openOf(i);
    return { x: barT(i), y: [px(Math.min(o, c) - LO_W[i]), px(Math.max(o, c) + HI_W[i])] };
  });
  const colors = CLOSE.map((c, i) => (c >= openOf(i) ? UP : DOWN));
  const sma = (vals: number[], color: string, width: number) => ({
    type: "line",
    data: vals.map((v, i) => ({ x: SMA_T[i], y: px(v) })),
    borderColor: color,
    borderWidth: width,
    pointRadius: 0,
    cubicInterpolationMode: "monotone",
    order: 2,
  });
  return {
    type: "bar",
    data: {
      datasets: [
        ...RED_LEVELS.map((v) => hline(v, "#ff0000", 2, 1)),
        sma(SMA50, "#ff2b2b", 1),
        sma(SMA100, "#2f62c4", 1.2),
        sma(SMA200, "#ff3cff", 1.2),
        { type: "bar", data: bodies, backgroundColor: colors, barThickness: 2.6, grouped: false, minBarLength: 1, order: 3 },
        { type: "bar", data: wicks, backgroundColor: colors, barThickness: 1, grouped: false, order: 4 },
        hline(GRAY_LEVEL, "#9a9a9a", 1, 5),
        hline(LAST_PRICE, "#2b4564", 1, 5),
      ],
    },
    options: baseOptions(1, 4, false, yScale(0.733848, 0.744956, PRICE_TICKS, (v) => v.toFixed(4))),
    plugins: [panelPlugin, watermarkPlugin, priceTagPlugin],
  };
}

function rsiConfig() {
  return {
    type: "line",
    data: {
      datasets: [{ data: series(RSI, indT), borderColor: "#2f4dff", borderWidth: 1, pointRadius: 0, tension: 0 }],
    },
    options: baseOptions(7, 7, false, yScale(-0.81, 101.63, RSI_TICKS, (v) => v.toFixed(4))),
    plugins: [panelPlugin, zonePlugin(RSI_UPPER, RSI_LOWER)],
  };
}

function fustoConfig() {
  return {
    type: "line",
    data: {
      datasets: [
        { data: series(FUSTO_K, indT), borderColor: "#ff1e1e", borderWidth: 1.2, pointRadius: 0, tension: 0.25, order: 1 },
        { data: series(FUSTO_D, indT), borderColor: "#2f4dff", borderWidth: 1.2, pointRadius: 0, tension: 0.25, order: 2 },
        hline(FUSTO_MID, "#3a3a3a", 1, 3),
      ],
    },
    options: baseOptions(6, 7, false, yScale(-1.17, 103.04, FUSTO_TICKS, (v) => v.toFixed(4))),
    plugins: [panelPlugin, zonePlugin(FUSTO_UPPER, FUSTO_LOWER)],
  };
}

function macdConfig() {
  return {
    type: "bar",
    data: {
      datasets: [
        { type: "line", data: series(MACD, indT), borderColor: "#2b55ff", borderWidth: 1.2, pointRadius: 0, tension: 0.3, order: 1 },
        { type: "line", data: series(SIGNAL, indT), borderColor: "#ff8426", borderWidth: 1.2, pointRadius: 0, tension: 0.3, order: 2 },
        {
          type: "bar",
          data: HIST.map((v, i) => ({ x: indT(i), y: v })),
          backgroundColor: HIST.map((v) => (v >= 0 ? "#00e600" : "#ff0000")),
          barThickness: 5,
          grouped: false,
          order: 3,
        },
      ],
    },
    options: baseOptions(6, 0, true, yScale(-6.6, 9, MACD_TICKS, (_v, i) => MACD_TICK_LABELS[i], "#dcdcdc")),
    plugins: [panelPlugin],
  };
}

function ChartCanvas({ top, height, make }: { top: number; height: number; make: () => any }) {
  const ref = useRef<HTMLCanvasElement>(null);
  useEffect(() => {
    const chart = new Chart(ref.current as HTMLCanvasElement, make());
    return () => chart.destroy();
  }, []);
  return <canvas ref={ref} width={W} height={height} style={{ position: "absolute", left: 0, top, width: W, height }} />;
}

const LABELS = [
  { text: "AUD/USD", top: 5, width: 78, strip: "#2f8a6e" },
  { text: "SMA (50,0)", top: 32, width: 85, strip: "#ff0000" },
  { text: "SMA (100,0)", top: 59, width: 91, strip: "#1f5fc8" },
  { text: "SMA (200,0)", top: 86, width: 91, strip: "#ff00ff" },
  { text: "RSI (14,70,30,1)", top: 402, width: 111, strip: "#0b3bff" },
  { text: "FUSTO (14,3,3,80,20)", top: 537, width: 139, strip: "#ff0000" },
  { text: "MACD (12,26,9)", top: 635, width: 110, strip: "#0b3bff" },
];
const HANDLES = [391, 527, 624];

export default function App() {
  return (
    <div style={{ position: "fixed", left: 0, top: 0, width: W, height: 734, background: "#ffffff", overflow: "hidden" }}>
      <ChartCanvas top={0} height={392} make={mainConfig} />
      <ChartCanvas top={390} height={140} make={rsiConfig} />
      <ChartCanvas top={526} height={102} make={fustoConfig} />
      <ChartCanvas top={624} height={110} make={macdConfig} />
      {LABELS.map((l) => (
        <div
          key={l.text}
          style={{
            position: "absolute",
            left: 5,
            top: l.top,
            width: l.width - 3,
            height: 21,
            lineHeight: "21px",
            borderLeft: `3px solid ${l.strip}`,
            background: "rgba(0,0,0,0.63)",
            color: "#ffffff",
            font: "bold 11px 'Liberation Sans', Arial, sans-serif",
            paddingLeft: 9,
            boxSizing: "border-box",
            whiteSpace: "nowrap",
          }}
        >
          {l.text}
        </div>
      ))}
      {HANDLES.map((y) => (
        <div
          key={y}
          style={{ position: "absolute", left: 808, top: y, width: 20, height: 1, borderTop: "1px solid #9a9a9a", borderBottom: "1px solid #9a9a9a" }}
        />
      ))}
    </div>
  );
}
